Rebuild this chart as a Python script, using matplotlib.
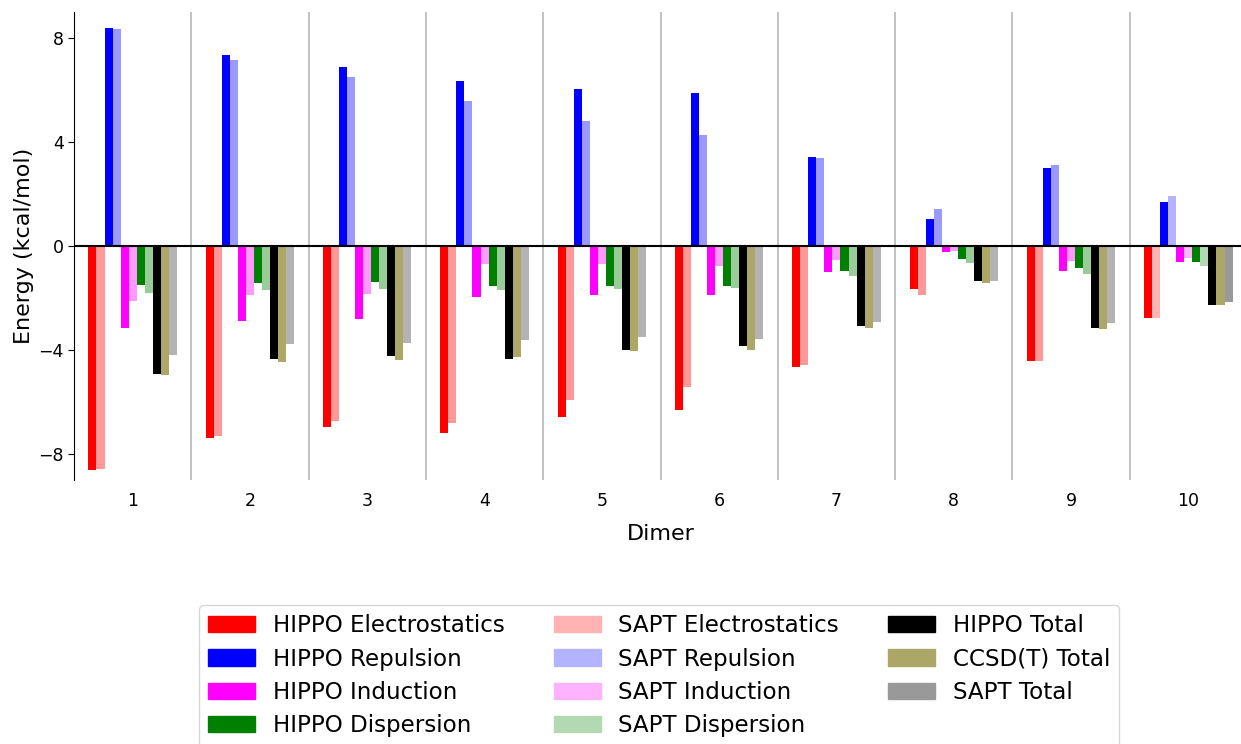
import numpy as np
import matplotlib
matplotlib.use("Agg")
from matplotlib import pyplot as plt
from matplotlib.patches import Patch

dimers = [1, 2, 3, 4, 5, 6, 7, 8, 9, 10]

hippo_elec = [-8.63, -7.38, -6.96, -7.20, -6.58, -6.32, -4.64, -1.67, -4.43, -2.77]
sapt_elec = [-8.59, -7.29, -6.73, -6.79, -5.91, -5.41, -4.57, -1.90, -4.43, -2.77]
hippo_rep = [8.38, 7.35, 6.87, 6.33, 6.04, 5.89, 3.44, 1.04, 3.00, 1.69]
sapt_rep = [8.34, 7.14, 6.51, 5.56, 4.81, 4.27, 3.40, 1.44, 3.13, 1.91]
hippo_ind = [-3.16, -2.89, -2.79, -1.96, -1.90, -1.88, -1.00, -0.23, -0.98, -0.63]
sapt_ind = [-2.11, -1.90, -1.85, -0.69, -0.69, -0.78, -0.54, -0.21, -0.59, -0.46]
hippo_disp = [-1.50, -1.42, -1.39, -1.53, -1.53, -1.53, -0.96, -0.49, -0.86, -0.63]
sapt_disp = [-1.80, -1.69, -1.67, -1.69, -1.66, -1.62, -1.16, -0.65, -1.06, -0.78]
hippo_total = [-4.91, -4.33, -4.24, -4.36, -3.99, -3.83, -3.08, -1.34, -3.15, -2.27]
ccsd_total = [-4.97, -4.46, -4.39, -4.26, -4.03, -3.99, -3.16, -1.41, -3.20, -2.27]
sapt_total = [-4.21, -3.76, -3.72, -3.62, -3.49, -3.58, -2.91, -1.34, -2.95, -2.16]

series = [hippo_elec, sapt_elec, hippo_rep, sapt_rep, hippo_ind, sapt_ind,
          hippo_disp, sapt_disp, hippo_total, ccsd_total, sapt_total]
labels = ["HIPPO Electrostatics", "SAPT Electrostatics", "HIPPO Repulsion",
          "SAPT Repulsion", "HIPPO Induction", "SAPT Induction",
          "HIPPO Dispersion", "SAPT Dispersion", "HIPPO Total",
          "CCSD(T) Total", "SAPT Total"]

# the last dimer is drawn in the lighter (legend) shade, the others darker
col_main = ["#ff0000", "#ff9999", "#0000ff", "#9999ff", "#ff00ff", "#ff99ff",
            "#008000", "#99cc99", "#000000", "#aca766", "#b3b3b3"]
col_last = ["#ff0000", "#ffb3b3", "#0000ff", "#b3b3ff", "#ff00ff", "#ffb3ff",
            "#008000", "#b3d9b3", "#000000", "#aca766", "#999999"]

# legend order (3 columns, filled column-wise)
legend_order = [0, 2, 4, 6, 1, 3, 5, 7, 8, 9, 10]

fig = plt.figure(figsize=(12.41, 7.44), dpi=100)
ax = fig.add_axes([74 / 1241, 1 - 480 / 744, 1173 / 1241, 468 / 744])

x = np.array(dimers, dtype=float)
w = 0.0685
n = len(series)
for k in range(n):
    off = (k - (n - 1) / 2) * w
    cols = [col_main[k]] * (len(dimers) - 1) + [col_last[k]]
    ax.bar(x + off, series[k], w, color=cols, zorder=2)

ax.axhline(0, color="black", lw=1.5, zorder=3)
for b in x[:-1] + 0.5:
    ax.axvline(b, color="#b8b8b8", lw=1.2, zorder=1)

ax.set_xlim(0.5, 10.5)
ax.set_ylim(-9, 9)
ax.set_xticks(x)
ax.set_xticklabels([str(d) for d in dimers])
ax.set_yticks([-8, -4, 0, 4, 8])
ax.tick_params(axis="x", length=0, labelsize=12.5, pad=9)
ax.tick_params(axis="y", length=4, labelsize=12.5)
for s in ["top", "right", "bottom"]:
    ax.spines[s].set_visible(False)

ax.set_xlabel("Dimer", fontsize=16, labelpad=10)
ax.set_ylabel("Energy (kcal/mol)", fontsize=16, labelpad=3)

handles = [Patch(color=col_last[i]) for i in legend_order]
fig.legend(handles, [labels[i] for i in legend_order], ncol=3,
           loc="upper left", bbox_to_anchor=(199 / 1241, 1 - 605 / 744),
           borderaxespad=0, fontsize=16.6, labelspacing=0.45,
           columnspacing=2.12, handlelength=2.05, handletextpad=0.76,
           borderpad=0.4)

fig.savefig("out.png", dpi=100)
